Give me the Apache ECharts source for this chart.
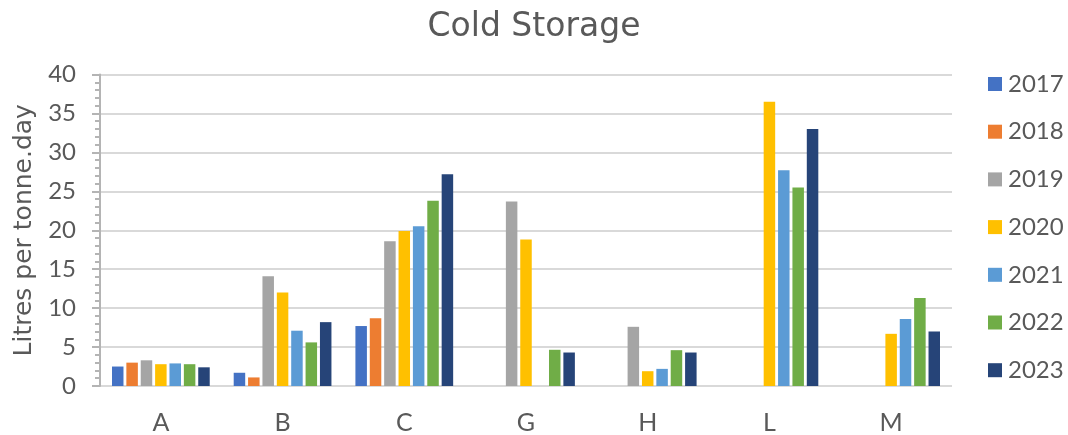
<!DOCTYPE html>
<html>
<head>
<meta charset="utf-8">
<script src="https://cdn.jsdelivr.net/npm/echarts@6/dist/echarts.min.js"></script>
<style>
  html, body { margin: 0; padding: 0; background: #fff; }
  #chart { width: 1068px; height: 435px; }
</style>
</head>
<body>
<div id="chart"></div>
<script>
// Site categories along the x axis
const categories = ['A', 'B', 'C', 'G', 'H', 'L', 'M'];

// Water use per year (litres per tonne.day); null = no data for that site
const y2017 = [2.5, 1.7, 7.7, null, null, null, null];
const y2018 = [3.0, 1.1, 8.7, null, null, null, null];
const y2019 = [3.3, 14.1, 18.6, 23.7, 7.6, null, null];
const y2020 = [2.8, 12.0, 19.9, 18.8, 1.9, 36.5, 6.7];
const y2021 = [2.9, 7.1, 20.5, null, 2.2, 27.7, 8.6];
const y2022 = [2.8, 5.6, 23.8, 4.65, 4.6, 25.5, 11.3];
const y2023 = [2.4, 8.2, 27.2, 4.3, 4.3, 33.0, 7.0];

const years = ['2017', '2018', '2019', '2020', '2021', '2022', '2023'];
const yearData = [y2017, y2018, y2019, y2020, y2021, y2022, y2023];
const colors = ['#4472C4', '#ED7D31', '#A5A5A5', '#FFC000', '#5B9BD5', '#70AD47', '#264478'];

const WIDE = 'DejaVu Sans';
const NUM = 'Lato';
const TEXT = '#595959';

const chart = echarts.init(document.getElementById('chart'), null, { renderer: 'canvas' });

chart.setOption({
  animation: false,
  color: colors,
  title: {
    text: 'Cold Storage',
    left: 'center',
    top: 6,
    textStyle: { fontFamily: WIDE, fontSize: 33, fontWeight: 'normal', color: TEXT }
  },
  legend: {
    orient: 'vertical',
    left: 988,
    top: 72,
    padding: 0,
    itemWidth: 14,
    itemHeight: 14,
    itemGap: 23.7,
    icon: 'rect',
    data: years,
    textStyle: { fontFamily: NUM, fontSize: 24, color: TEXT, lineHeight: 22, height: 22, padding: [0, 0, 0, 1] }
  },
  grid: { left: 100, right: 116, top: 74.5, bottom: 48, containLabel: false },
  xAxis: {
    type: 'category',
    data: categories,
    axisLine: { show: false },
    axisTick: { show: false },
    axisLabel: { fontFamily: NUM, fontSize: 25, color: TEXT, margin: 24 }
  },
  yAxis: {
    type: 'value',
    min: 0,
    max: 40,
    interval: 5,
    name: 'Litres per tonne.day',
    nameLocation: 'middle',
    nameGap: 62,
    nameTextStyle: { fontFamily: WIDE, fontSize: 25, color: TEXT },
    axisLine: { show: true, lineStyle: { color: '#B4B4B4', width: 2 } },
    axisTick: { show: true, length: 8, lineStyle: { color: '#B4B4B4', width: 2 } },
    minorTick: { show: true, splitNumber: 5, length: 5, lineStyle: { color: '#B4B4B4', width: 2 } },
    axisLabel: { fontFamily: NUM, fontSize: 24, color: TEXT, margin: 24 },
    splitLine: { show: true, lineStyle: { color: '#D9D9D9', width: 2 } }
  },
  series: years.map((name, i) => ({
    name: name,
    type: 'bar',
    data: yearData[i],
    barWidth: 11.5,
    barGap: '25%',
    itemStyle: { color: colors[i] }
  }))
});
</script>
</body>
</html>
